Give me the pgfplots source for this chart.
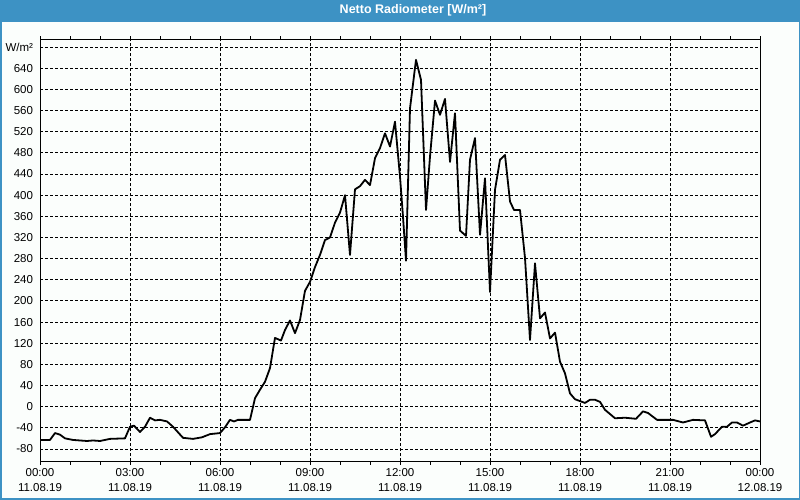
\documentclass[border=0pt]{standalone}
\usepackage{pgfplots}
\pgfplotsset{compat=1.18}
\usepackage{fontspec}
\setmainfont{Liberation Sans}
\definecolor{titleblue}{RGB}{61,146,196}
\definecolor{bgcol}{RGB}{251,254,252}
\begin{document}
\begin{tikzpicture}
\fill[bgcol] (0,0) rectangle (800pt,500pt);
\fill[titleblue] (0,478pt) rectangle (800pt,500pt);
\draw[titleblue, line width=1.5pt] (0.75pt,0.75pt) rectangle (799.25pt,499.25pt);
\node[text=white, font=\fontsize{12.5}{14}\selectfont\bfseries] at (413pt,489.5pt) {Netto Radiometer [W/m²]};
\begin{axis}[
  at={(40pt,38.7pt)}, anchor=south west,
  scale only axis, width=720pt, height=421.3pt,
  xmin=0, xmax=24, ymin=-103.4, ymax=693.5,
  axis background/.style={fill=bgcol},
  axis line style={black, line width=1pt},
  xtick={0,3,...,24},
  minor xtick={0,1,...,24},
  xticklabels={{00:00\\11.08.19},{03:00\\11.08.19},{06:00\\11.08.19},{09:00\\11.08.19},{12:00\\11.08.19},{15:00\\11.08.19},{18:00\\11.08.19},{21:00\\11.08.19},{00:00\\12.08.19}},
  xticklabel style={align=center, font=\fontsize{11.5}{15}\selectfont, text=black},
  ytick={-80,-40,...,680},
  yticklabels={-80,-40,0,40,80,120,160,200,240,280,320,360,400,440,480,520,560,600,640,W/m²},
  yticklabel style={font=\fontsize{11.5}{13}\selectfont, text=black},
  tick align=outside,
  major tick length=3.5pt, minor tick length=3.5pt,
  xtick style={black, line width=0.8pt},
  ytick style={draw=none},
  grid=major,
  major grid style={black, line width=0.8pt, dash pattern=on 3pt off 2pt},
  minor grid style={draw=none},
  clip=true,
]
\addplot[black, line width=1.8pt, line join=round] coordinates {
(0,-63)(0.333,-63)(0.5,-50)(0.667,-53)(0.833,-60)(1.1,-63)(1.567,-65)(1.767,-64)(2,-65)(2.333,-61)(2.833,-60)
(3,-38)(3.133,-36)(3.333,-48)(3.5,-38)(3.667,-21)(3.833,-26)(4,-25)(4.233,-28)(4.433,-38)(4.767,-59)(5.1,-61)(5.4,-58)(5.667,-52)
(6,-50)(6.167,-39)(6.333,-25)(6.467,-28)(6.6,-25)(7,-25)(7.167,16)(7.333,32)(7.5,47)(7.667,73)(7.833,130)(8.033,125)(8.167,145)(8.333,163)(8.5,139)(8.667,164)(8.833,219)
(9,236)(9.167,264)(9.333,287)(9.5,315)(9.667,320)(9.833,348)(10,367)(10.167,400)(10.333,287)(10.5,411)(10.667,417)(10.833,429)(11,419)(11.167,470)(11.333,489)(11.5,517)(11.667,492)(11.833,539)
(12,435)(12.1,359)(12.2,276)(12.333,564)(12.533,656)(12.7,618)(12.867,372)(13,473)(13.167,579)(13.333,552)(13.5,582)(13.667,463)(13.833,555)
(14,333)(14.2,323)(14.333,467)(14.5,508)(14.667,325)(14.833,432)(15,217)(15.167,410)(15.333,467)(15.5,476)(15.667,388)(15.8,372)
(16,372)(16.167,281)(16.333,126)(16.5,271)(16.667,167)(16.833,178)(17,129)(17.167,140)(17.333,85)(17.5,63)(17.667,25)(17.833,14)
(18.167,7)(18.333,13)(18.5,13)(18.667,9)(18.833,-6)(19.167,-22)(19.5,-21)(19.867,-23)(20.1,-9)(20.267,-12)(20.567,-25)
(21.1,-25)(21.433,-30)(21.767,-25)(22.167,-26)(22.367,-57)(22.5,-52)(22.733,-38)(22.9,-38)(23.067,-30)(23.233,-30)(23.433,-36)(23.667,-30)(23.833,-26)(24,-28)
};
\end{axis}
\end{tikzpicture}
\end{document}
